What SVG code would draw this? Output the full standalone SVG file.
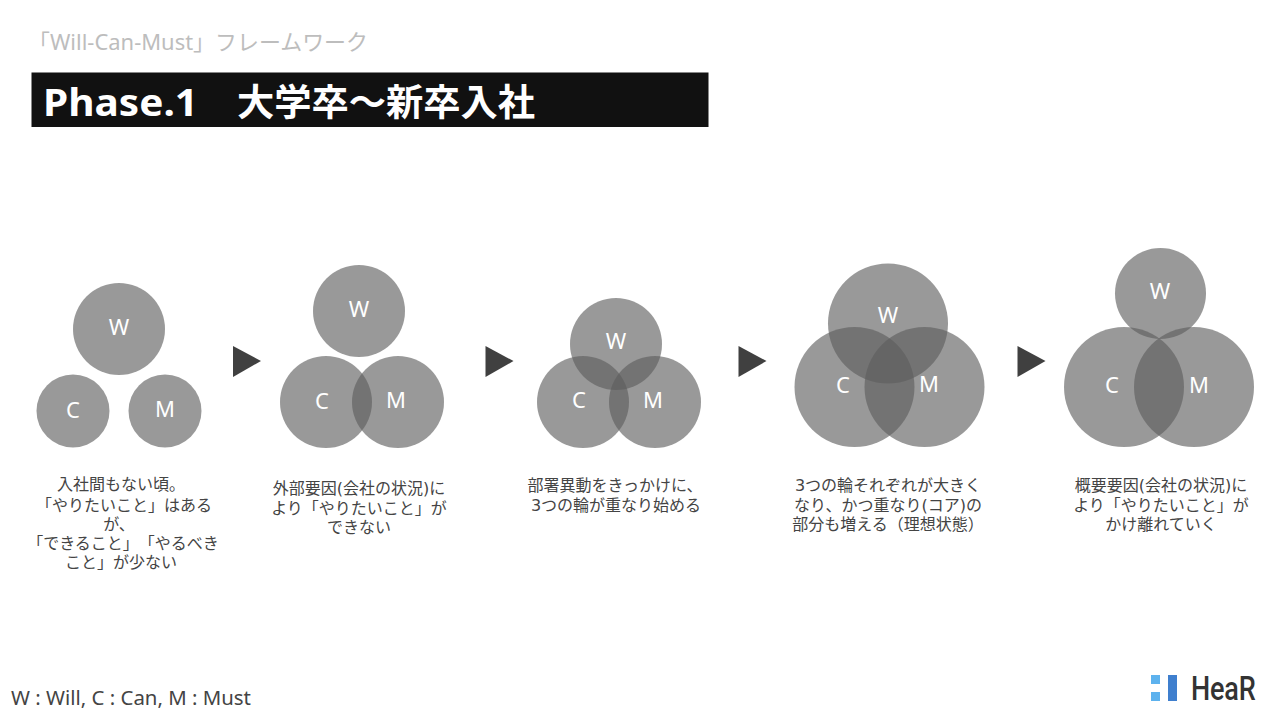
<svg xmlns="http://www.w3.org/2000/svg" width="1280" height="720" viewBox="0 0 1280 720">
<style>
text{text-spacing-trim:space-all}
.c{fill:#5d5d5d;fill-opacity:.63}
.l{font-family:"Noto Sans","Noto Sans CJK JP",sans-serif;font-size:22px;fill:#fff;text-anchor:middle}
.t{font-family:"DejaVu Sans","Noto Sans CJK JP",sans-serif;font-size:16px;fill:#444;text-anchor:middle}
.a{fill:#404040}
</style>
<rect width="1280" height="720" fill="#fff"/>
<text x="28" y="50" font-family="'Noto Sans','Noto Sans CJK JP',sans-serif" font-size="22" fill="#bdbdbd" textLength="340" lengthAdjust="spacingAndGlyphs">「Will-Can-Must」フレームワーク</text>
<g id="title">
<rect x="31.500" y="72.500" width="677" height="54.500" fill="#111"/>
<text x="43" y="116" font-family="'Noto Sans',sans-serif" font-size="37" font-weight="700" fill="#fff" textLength="155" lengthAdjust="spacingAndGlyphs">Phase.1</text>
<text x="237" y="116" font-family="'Noto Sans CJK JP',sans-serif" font-size="37" font-weight="700" fill="#fff" textLength="298" lengthAdjust="spacingAndGlyphs">大学卒～新卒入社</text>
</g>
<g id="stage1">
<circle class="c" cx="119" cy="329" r="46"/><circle class="c" cx="73" cy="411" r="36.500"/><circle class="c" cx="165" cy="411" r="36.500"/>
<text class="l" x="119" y="335">W</text><text class="l" x="73" y="418">C</text><text class="l" x="165" y="417">M</text>
<text class="t"><tspan x="121" y="490">入社間もない頃。</tspan><tspan x="124" y="511">「やりたいこと」はある</tspan><tspan x="119" y="530">が、</tspan><tspan x="123" y="549">「できること」「やるべき</tspan><tspan x="121" y="568">こと」が少ない</tspan></text>
</g>
<g id="stage2">
<circle class="c" cx="359" cy="311" r="46"/><circle class="c" cx="326" cy="402" r="46"/><circle class="c" cx="398" cy="402" r="46"/>
<text class="l" x="359" y="317">W</text><text class="l" x="322" y="409">C</text><text class="l" x="396" y="408">M</text>
<text class="t"><tspan x="359" y="494">外部要因(会社の状況)に</tspan><tspan x="359" y="514">より「やりたいこと」が</tspan><tspan x="359" y="533">できない</tspan></text>
</g>
<g id="stage3">
<circle class="c" cx="616" cy="344" r="46"/><circle class="c" cx="583" cy="402" r="46"/><circle class="c" cx="655" cy="402" r="46"/>
<text class="l" x="616" y="349">W</text><text class="l" x="579" y="408">C</text><text class="l" x="653" y="408">M</text>
<text class="t"><tspan x="615" y="491">部署異動をきっかけに、</tspan><tspan x="616" y="511">3つの輪が重なり始める</tspan></text>
</g>
<g id="stage4">
<circle class="c" cx="888" cy="323.500" r="60"/><circle class="c" cx="854.500" cy="387" r="60"/><circle class="c" cx="924.500" cy="387" r="60"/>
<text class="l" x="888" y="323">W</text><text class="l" x="843" y="393">C</text><text class="l" x="929" y="392">M</text>
<text class="t"><tspan x="888" y="491">3つの輪それぞれが大きく</tspan><tspan x="888" y="511">なり、かつ重なり(コア)の</tspan><tspan x="888" y="530">部分も増える（理想状態）</tspan></text>
</g>
<g id="stage5">
<circle class="c" cx="1160.500" cy="293.500" r="45.500"/><circle class="c" cx="1124" cy="387" r="60"/><circle class="c" cx="1194" cy="387" r="60"/>
<text class="l" x="1160" y="299">W</text><text class="l" x="1112" y="393">C</text><text class="l" x="1199" y="393">M</text>
<text class="t"><tspan x="1161" y="491">概要要因(会社の状況)に</tspan><tspan x="1161" y="511">より「やりたいこと」が</tspan><tspan x="1161" y="530">かけ離れていく</tspan></text>
</g>
<g id="connectors">
<polygon class="a" points="233,346 261,361 233,377"/>
<polygon class="a" points="485.500,346 513.500,361 485.500,377"/>
<polygon class="a" points="738.500,346 766.500,361 738.500,377"/>
<polygon class="a" points="1017.500,346 1045.500,361 1017.500,377"/>
</g>
<text x="11" y="705" font-family="'Noto Sans',sans-serif" font-size="19" fill="#444" textLength="240" lengthAdjust="spacingAndGlyphs">W : Will, C : Can, M : Must</text>
<g id="logo">
<rect x="1151" y="675" width="9" height="9" fill="#5db2ee"/>
<rect x="1151" y="692" width="9" height="9" fill="#5db2ee"/>
<rect x="1168" y="675" width="9" height="26" fill="#3f7fce"/>
<text transform="translate(1191 700) scale(.82 1)" font-family="'Roboto',sans-serif" font-size="33" font-weight="500" fill="#333" textLength="79" lengthAdjust="spacing">HeaR</text>
</g>
</svg>
